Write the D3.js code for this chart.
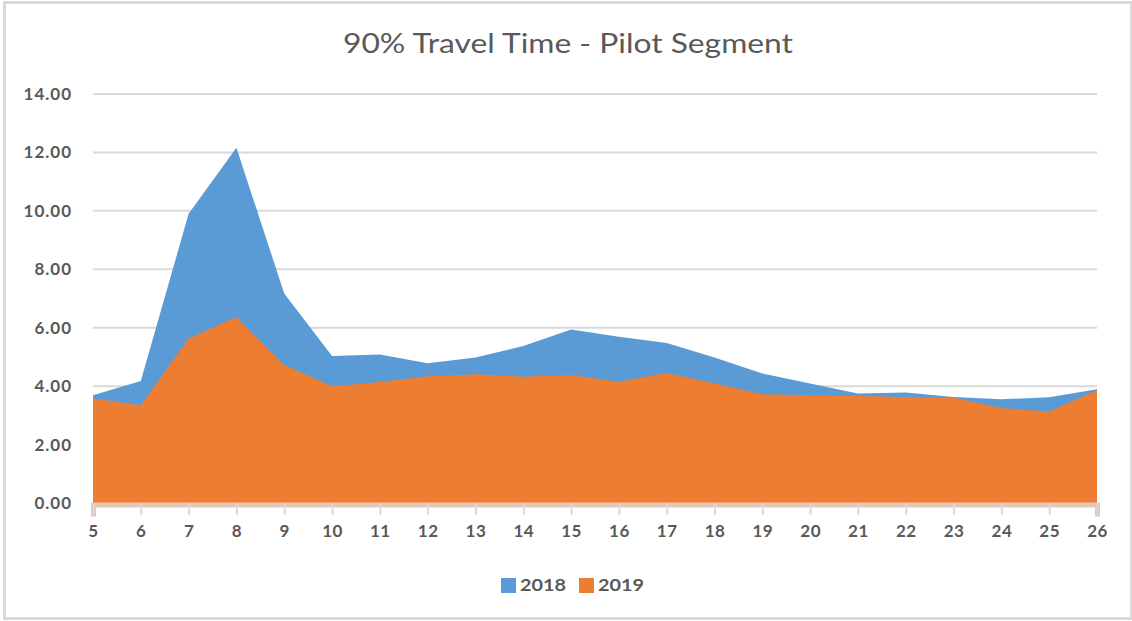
<!DOCTYPE html>
<html>
<head>
<meta charset="utf-8">
<script src="https://cdn.jsdelivr.net/npm/d3@7"></script>
<style>
  html, body { margin: 0; padding: 0; background: #fff; }
  svg { display: block; }
  text { font-family: Lato, "Open Sans", sans-serif; }
</style>
</head>
<body>
<div id="chart"></div>
<script>
const title = "90% Travel Time - Pilot Segment";
const hours = [5, 6, 7, 8, 9, 10, 11, 12, 13, 14, 15, 16, 17, 18, 19, 20, 21, 22, 23, 24, 25, 26];
const series2018 = [3.69, 4.18, 9.9, 12.16, 7.17, 5.03, 5.08, 4.78, 4.98, 5.37, 5.94, 5.69, 5.48, 4.98, 4.43, 4.09, 3.75, 3.78, 3.63, 3.55, 3.62, 3.89];
const series2019 = [3.58, 3.35, 5.63, 6.37, 4.72, 4.0, 4.14, 4.34, 4.41, 4.32, 4.38, 4.15, 4.45, 4.09, 3.72, 3.69, 3.66, 3.63, 3.6, 3.25, 3.13, 3.86];
const seriesNames = ["2018", "2019"];
const seriesColors = ["#5b9bd5", "#ed7d31"];
const yTicks = [0, 2, 4, 6, 8, 10, 12, 14];

const W = 1132, H = 621;
const m = { left: 93, right: 1097, top: 94, bottom: 503 };

const svg = d3.select("#chart").append("svg").attr("width", W).attr("height", H);

svg.append("rect").attr("x", 4.5).attr("y", 2.5).attr("width", 1127).attr("height", 616)
  .attr("fill", "#fff").attr("stroke", "#d9d9d9").attr("stroke-width", 3);

const x = d3.scaleLinear().domain([hours[0], hours[hours.length - 1]]).range([m.left, m.right]);
const y = d3.scaleLinear().domain([0, 14]).range([m.bottom, m.top]);

// gridlines
svg.append("g").selectAll("line").data(yTicks.filter(d => d > 0)).join("line")
  .attr("x1", m.left).attr("x2", m.right)
  .attr("y1", d => y(d)).attr("y2", d => y(d))
  .attr("stroke", "#d9d9d9").attr("stroke-width", 2);

// areas
const data = [series2018, series2019];
data.forEach((s, i) => {
  const area = d3.area()
    .x((d, j) => x(hours[j]))
    .y0(y(0))
    .y1(d => y(d));
  svg.append("path").datum(s).attr("d", area).attr("fill", seriesColors[i]);
});

// y axis
const yAxis = d3.axisLeft(y).tickValues(yTicks).tickFormat(d3.format(".2f")).tickSize(0).tickPadding(21);
const gy = svg.append("g").attr("transform", `translate(${m.left},0)`).call(yAxis);
gy.select(".domain").remove();
gy.selectAll("text").attr("fill", "#595959").attr("font-size", 17).attr("font-weight", "bold")
  .attr("letter-spacing", 1).style("font-family", "Lato, sans-serif");

// x axis
const xAxis = d3.axisBottom(x).tickValues(hours).tickFormat(d3.format("d")).tickSize(12).tickPadding(10);
const gx = svg.append("g").attr("transform", `translate(0,${m.bottom})`).call(xAxis);
gx.select(".domain").attr("stroke", "#e3c7b6").attr("stroke-width", 5).attr("transform", "translate(0,1.5)");
gx.selectAll(".tick line").attr("stroke", "#d9d9d9").attr("stroke-width", 2);
gx.selectAll("text").attr("fill", "#595959").attr("font-size", 17).attr("font-weight", "bold")
  .attr("letter-spacing", 0.5).style("font-family", "Lato, sans-serif");

// title
svg.append("text").attr("x", 568).attr("y", 53).attr("text-anchor", "middle")
  .attr("fill", "#595959").attr("font-size", 27)
  .attr("textLength", 450).attr("lengthAdjust", "spacingAndGlyphs").text(title);

// legend
const legendX = [501, 579];
seriesNames.forEach((n, i) => {
  const g = svg.append("g").attr("transform", `translate(${legendX[i]},578)`);
  g.append("rect").attr("width", 15).attr("height", 15).attr("fill", seriesColors[i]);
  g.append("text").attr("x", 19).attr("y", 13).attr("fill", "#595959")
    .attr("font-size", 17).attr("font-weight", "bold")
    .attr("textLength", 46).attr("lengthAdjust", "spacingAndGlyphs").text(n);
});
</script>
</body>
</html>
